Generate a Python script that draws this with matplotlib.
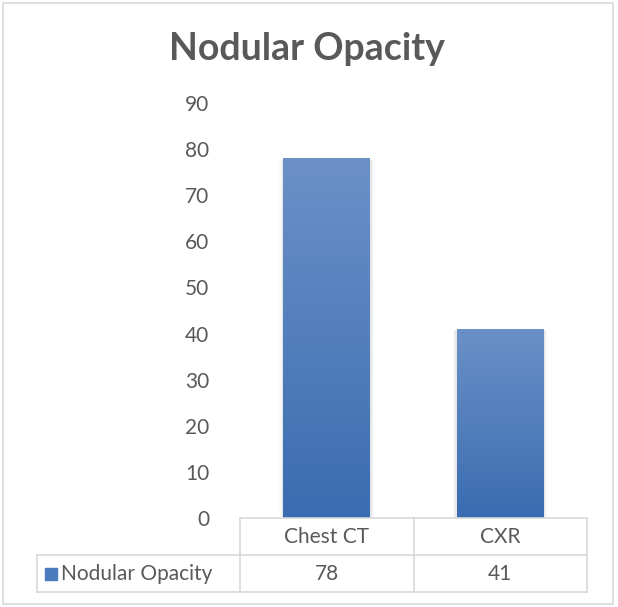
import numpy as np
import matplotlib.pyplot as plt
from matplotlib.patches import Rectangle
from matplotlib.lines import Line2D
from matplotlib.colors import LinearSegmentedColormap

categories = ['Chest CT', 'CXR']
values = [78, 41]
series_name = 'Nodular Opacity'
yticks = [0, 10, 20, 30, 40, 50, 60, 70, 80, 90]

W, H = 618, 607
plt.rcParams['font.family'] = ['Lato', 'DejaVu Sans']
txt = '#595959'
grid = '#d9d9d9'

fig = plt.figure(figsize=(W / 100, H / 100), dpi=100)


def fx(x):
    return x / W


def fy(y):
    return 1 - y / H


# plot area in pixels
left, right, top, bottom = 240, 587, 103, 518
ax = fig.add_axes([fx(left), fy(bottom), (right - left) / W, (bottom - top) / H])
ax.set_yticks(yticks)
ax.set_yticklabels([str(t) for t in yticks], fontsize=15, color=txt)
ax.set_xticks([])
ax.tick_params(axis='y', length=0, pad=22)
for s in ax.spines.values():
    s.set_visible(False)

# gradient bars
grad = np.linspace(0, 1, 256).reshape(-1, 1)
cmap = LinearSegmentedColormap.from_list('g', ['#3a6cb1', '#6b91c7'])
bars = ax.bar(range(len(categories)), values, width=0.5, color='none', zorder=2)
for b in bars:
    x0, w, h = b.get_x(), b.get_width(), b.get_height()
    # soft shadow on the sides only
    for k, a in enumerate([0.05, 0.03, 0.015]):
        ax.add_patch(Rectangle((x0 - 0.008 * (k + 1), 0), w + 0.016 * (k + 1), h - 0.3,
                               color='black', alpha=a, lw=0, zorder=1))
    im = ax.imshow(grad, extent=(x0, x0 + w, 0, h), origin='lower', cmap=cmap,
                   aspect='auto', zorder=2)
    im.set_clip_path(b)
ax.set_xlim(-0.5, len(categories) - 0.5)
ax.set_ylim(0, 90)

# title
fig.text(fx(307), fy(49), series_name, ha='center', va='center', fontsize=27,
         fontweight='bold', color=txt)

# data table
lines = [
    ((left, right), (518, 518)),
    ((37, right), (555, 555)),
    ((37, right), (592, 592)),
    ((37, 37), (555, 592)),
    ((left, left), (518, 592)),
    ((414, 414), (518, 592)),
    ((right, right), (518, 592)),
]
for xs, ys in lines:
    fig.add_artist(Line2D([fx(x) for x in xs], [fy(y) for y in ys], color=grid, lw=1.2))

col_x = [327, 500]
for cx, cat, v in zip(col_x, categories, values):
    fig.text(fx(cx), fy(537), cat, ha='center', va='center', fontsize=15, color=txt)
    fig.text(fx(cx), fy(574), str(v), ha='center', va='center', fontsize=15, color=txt)
fig.add_artist(Rectangle((fx(45), fy(580)), 12 / W, 12 / H, color='#4a7bbd',
                         transform=fig.transFigure))
fig.text(fx(61), fy(574), series_name, ha='left', va='center', fontsize=15, color=txt)

# chart border
fig.add_artist(Rectangle((fx(3), fy(604)), 610 / W, 601 / H, fill=False, ec=grid,
                         lw=1.2, transform=fig.transFigure))

fig.savefig('out.png', dpi=100)
